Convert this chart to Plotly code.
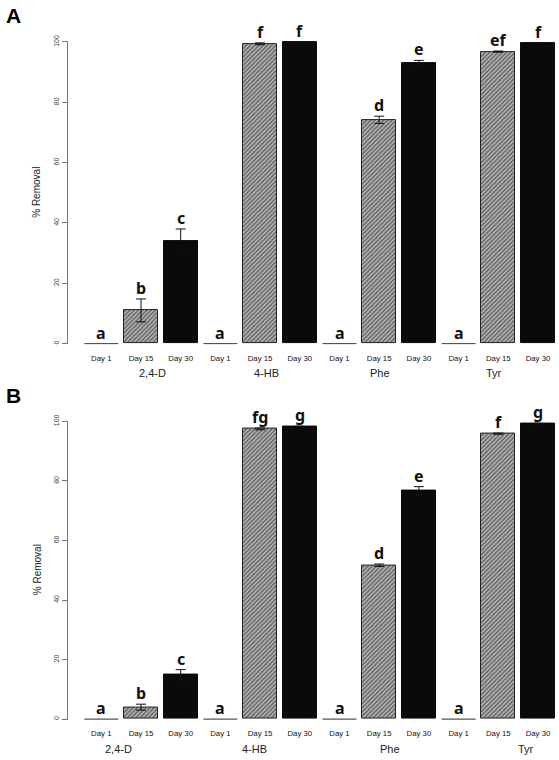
import plotly.graph_objects as go

# ---------------- data ----------------
groups = ["2,4-D", "4-HB", "Phe", "Tyr"]
days = ["Day 1", "Day 15", "Day 30"]

# Panel A
A_day1 = [0, 0, 0, 0]
A_day15 = [11.0, 99.4, 74.2, 96.8]
A_day30 = [34.0, 99.9, 93.1, 99.7]
A_err15 = [3.8, 0.3, 1.2, 0.2]
A_err30 = [4.0, 0.2, 0.8, 0.1]
A_letters1 = ["a", "a", "a", "a"]
A_letters15 = ["b", "f", "d", "ef"]
A_letters30 = ["c", "f", "e", "f"]

# Panel B
B_day1 = [0, 0, 0, 0]
B_day15 = [4.0, 97.5, 51.7, 95.9]
B_day30 = [14.8, 98.3, 76.8, 99.2]
B_err15 = [1.0, 0.3, 0.4, 0.2]
B_err30 = [1.8, 0.1, 1.3, 0.2]
B_letters1 = ["a", "a", "a", "a"]
B_letters15 = ["b", "fg", "d", "f"]
B_letters30 = ["c", "g", "e", "g"]

y_ticks = [0, 20, 40, 60, 80, 100]

# ---------------- figure ----------------
W, H = 559, 760
fig = go.Figure()
BAR_W = 0.856
x1 = [3 * i + 0 for i in range(len(groups))]
x15 = [3 * i + 1 for i in range(len(groups))]
x30 = [3 * i + 2 for i in range(len(groups))]

panels = [
    ("x", "y", A_day1, A_day15, A_day30, A_err15, A_err30, A_letters1, A_letters15, A_letters30),
    ("x2", "y2", B_day1, B_day15, B_day30, B_err15, B_err30, B_letters1, B_letters15, B_letters30),
]

annotations = []
for xa, ya, d1, d15, d30, e15, e30, l1, l15, l30 in panels:
    # Day 1: flat (zero-height) bars drawn as a line across the bar width
    lx, ly = [], []
    for xv, v in zip(x1, d1):
        lx += [xv - BAR_W / 2, xv + BAR_W / 2, None]
        ly += [v, v, None]
    fig.add_trace(go.Scatter(
        x=lx, y=ly, xaxis=xa, yaxis=ya, mode="lines",
        line=dict(color="#555", width=1.2),
        showlegend=False, cliponaxis=False, hoverinfo="skip"))
    # Day 15: hatched
    fig.add_trace(go.Bar(
        x=x15, y=d15, xaxis=xa, yaxis=ya, width=BAR_W,
        marker=dict(color="#bdbdbd", line=dict(color="#222", width=1),
                    pattern=dict(shape="/", fgcolor="#111", bgcolor="#bdbdbd", size=3, solidity=0.55)),
        error_y=dict(type="data", array=e15, color="#111", thickness=1, width=5),
        showlegend=False))
    # Day 30: solid black
    fig.add_trace(go.Bar(
        x=x30, y=d30, xaxis=xa, yaxis=ya, width=BAR_W,
        marker=dict(color="#0a0a0a", line=dict(color="#0a0a0a", width=1)),
        error_y=dict(type="data", array=e30, color="#111", thickness=1, width=5),
        showlegend=False))
    # significance letters
    for xs, vals, errs, labs in [(x1, d1, [0] * 4, l1), (x15, d15, e15, l15), (x30, d30, e30, l30)]:
        for xv, v, e, lab in zip(xs, vals, errs, labs):
            annotations.append(dict(
                x=xv, y=v + e, xref=xa, yref=ya, text="<b>" + lab + "</b>", showarrow=False,
                xanchor="center", yanchor="bottom", yshift=-2,
                font=dict(family="Noto Sans", size=16, color="#111")))

def px_x(p):
    return p / W

def adj(p):
    # small vertical compensation so rendered positions line up
    return p - 5 * (1 - p / H)

def px_y(p):
    return 1 - adj(p) / H

x_left, x_right = 68, 557
xdom = [px_x(x_left), px_x(x_right)]
slot0, pitch = 101.3, 39.7
xrange = [(x_left - slot0) / pitch, (x_right - slot0) / pitch]

yr = [-0.3, 100.3]
def ydom(top100, bot0):
    per = (bot0 - top100) / 100.0
    top = top100 - (yr[1] - 100) * per
    bot = bot0 + (0 - yr[0]) * per
    return [px_y(bot), px_y(top)]

tickvals = list(range(12))
ticktext = days * len(groups)

xcommon = dict(range=xrange, domain=xdom, tickmode="array", tickvals=tickvals, ticktext=ticktext,
               showline=False, showgrid=False, zeroline=False, ticks="outside", ticklen=6,
               tickcolor="rgba(0,0,0,0)",
               tickfont=dict(family="Liberation Sans", size=7.8, color="#111"))
ycommon = dict(range=yr, tickmode="array", tickvals=y_ticks, showline=True, linecolor="#777",
               linewidth=1, showgrid=False, zeroline=False, ticks="outside", ticklen=5,
               tickcolor="#777", tickangle=-90,
               tickfont=dict(family="Liberation Sans", size=7, color="#444"))

fig.update_layout(
    width=W, height=H, margin=dict(l=0, r=0, t=0, b=0),
    paper_bgcolor="white", plot_bgcolor="white", bargap=0,
    xaxis=dict(xcommon, anchor="y"),
    yaxis=dict(ycommon, domain=ydom(41, 343), anchor="x"),
    xaxis2=dict(xcommon, anchor="y2"),
    yaxis2=dict(ycommon, domain=ydom(421, 719), anchor="x2"),
)

gA = [152, 266, 380, 494]
gB = [118, 254, 390, 526]
for g, pa, pb in zip(groups, gA, gB):
    annotations.append(dict(x=px_x(pa), y=px_y(372), xref="paper", yref="paper", text=g,
                            xanchor="center", yanchor="middle", showarrow=False,
                            font=dict(family="Liberation Sans", size=11, color="#222")))
    annotations.append(dict(x=px_x(pb), y=px_y(749), xref="paper", yref="paper", text=g,
                            xanchor="center", yanchor="middle", showarrow=False,
                            font=dict(family="Liberation Sans", size=11, color="#222")))

for yc in [192, 570]:
    annotations.append(dict(x=px_x(37), y=px_y(yc), xref="paper", yref="paper", text="% Removal",
                            textangle=-90, xanchor="center", yanchor="middle", showarrow=False,
                            font=dict(family="Liberation Sans", size=10, color="#222")))

annotations.append(dict(x=px_x(4), y=px_y(14), xref="paper", yref="paper", text="<b>A</b>",
                        xanchor="left", yanchor="middle", showarrow=False,
                        font=dict(family="Liberation Sans", size=21, color="black")))
annotations.append(dict(x=px_x(4), y=px_y(395), xref="paper", yref="paper", text="<b>B</b>",
                        xanchor="left", yanchor="middle", showarrow=False,
                        font=dict(family="Liberation Sans", size=21, color="black")))

fig.update_layout(annotations=annotations)
fig.write_html("out.html", config={"displayModeBar": False},
               post_script="document.body.style.margin='0';document.body.style.overflow='hidden';")
